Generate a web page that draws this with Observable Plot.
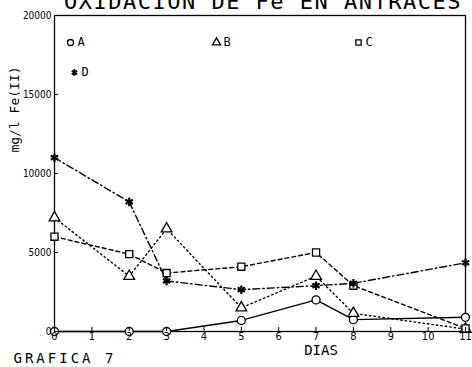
<!DOCTYPE html>
<html>
<head>
<meta charset="utf-8">
<script src="https://cdn.jsdelivr.net/npm/d3@7"></script>
<script src="https://cdn.jsdelivr.net/npm/@observablehq/plot@0.6"></script>
<style>
  html, body { margin: 0; padding: 0; background: #fff; }
  svg { display: block; }
</style>
</head>
<body>
<div id="chart"></div>
<script>
// ---- data ----
const days = [0, 2, 3, 5, 7, 8, 11];
const seriesA = [0, 0, 0, 700, 2000, 750, 900];
const seriesB = [7200, 3500, 6500, 1500, 3500, 1150, 150];
const seriesC = [6000, 4900, 3700, 4100, 5000, 2900, 200];
const seriesD = [11000, 8200, 3200, 2650, 2900, 3050, 4350];
const seriesNames = ["A", "B", "C", "D"];
const xTicks = [0, 1, 2, 3, 4, 5, 6, 7, 8, 9, 10, 11];
const yTicks = [0, 5000, 10000, 15000, 20000];
const titleText = "OXIDACION DE Fe EN ANTRACES";
const yLabel = "mg/l Fe(II)";
const xLabel = "DIAS";
const captionText = "GRAFICA 7";

// ---- styles ----
const styles = {
  A: {symbol: "circle", dash: null},
  B: {symbol: "triangle", dash: "1.5,3"},
  C: {symbol: "square", dash: "4,3"},
  D: {symbol: "asterisk", dash: "7,3,1.5,3"}
};
const legendLayout = {
  A: {dx: 16, dy: 27},
  B: {dx: 162, dy: 27},
  C: {dx: 304, dy: 27},
  D: {dx: 20, dy: 57}
};
const letterSpacing = new Map([[titleText, "1.5px"], [captionText, "3px"]]);

const allSeries = [seriesA, seriesB, seriesC, seriesD];
const rows = [];
seriesNames.forEach((name, i) => {
  days.forEach((d, j) => rows.push({series: name, day: d, value: allSeries[i][j]}));
});

const mono = "DejaVu Sans Mono";
const marks = [Plot.frame({stroke: "#000", strokeWidth: 1.3})];

for (const name of seriesNames) {
  const data = rows.filter(r => r.series === name);
  const st = styles[name];
  marks.push(Plot.line(data, {
    x: "day", y: "value", stroke: "#000", strokeWidth: 1.4,
    strokeDasharray: st.dash
  }));
  marks.push(Plot.dot(data, {
    x: "day", y: "value", symbol: () => st.symbol, r: 4,
    stroke: "#000", fill: "#fff", strokeWidth: name === "D" ? 2.2 : 1.3
  }));
  const lg = legendLayout[name];
  marks.push(Plot.dot([name], {
    frameAnchor: "top-left", dx: lg.dx, dy: lg.dy, symbol: () => st.symbol, r: 3,
    stroke: "#000", fill: "#fff", strokeWidth: name === "D" ? 2 : 1.3
  }));
  marks.push(Plot.text([name], {
    frameAnchor: "top-left", dx: lg.dx + 7, dy: lg.dy, text: d => d,
    textAnchor: "start", lineAnchor: "middle", fontSize: 12, fontFamily: mono, fill: "#000"
  }));
}

marks.push(
  Plot.axisX({ticks: xTicks, tickSize: -4, tickPadding: 5, tickFormat: d => String(d), label: null,
    fontSize: 11, fontFamily: "DejaVu Sans Condensed", color: "#000"}),
  Plot.axisY({ticks: yTicks, tickSize: -4, tickPadding: 7, tickFormat: d => String(d), label: null,
    fontSize: 10, fontFamily: "DejaVu Sans Condensed", color: "#000"}),
  Plot.text([titleText], {frameAnchor: "top", dx: 3, dy: -7, lineAnchor: "bottom", textAnchor: "middle",
    fontSize: 22, fontFamily: mono, fill: "#000"}),
  Plot.text([yLabel], {frameAnchor: "left", dx: -40, dy: -64, rotate: -90, textAnchor: "middle",
    lineAnchor: "middle", fontSize: 13, fontFamily: mono, fill: "#000"}),
  Plot.text([xLabel], {frameAnchor: "bottom", dx: 61, dy: 19, lineAnchor: "middle", textAnchor: "middle",
    fontSize: 14, fontFamily: mono, fill: "#000"}),
  Plot.text([captionText], {frameAnchor: "bottom-left", dx: -41, dy: 27, textAnchor: "start",
    lineAnchor: "middle", fontSize: 14, fontFamily: mono, fill: "#000"})
);

const chart = Plot.plot({
  width: 472,
  height: 367,
  marginLeft: 54,
  marginRight: 7,
  marginTop: 15,
  marginBottom: 36,
  style: {background: "#fff", color: "#000"},
  x: {domain: [0, 11], label: null},
  y: {domain: [0, 20000], label: null},
  marks
});
d3.select(chart).selectAll("text")
  .filter(function () { return letterSpacing.has(this.textContent); })
  .style("letter-spacing", function () { return letterSpacing.get(this.textContent); });
document.getElementById("chart").appendChild(chart);
</script>
</body>
</html>
